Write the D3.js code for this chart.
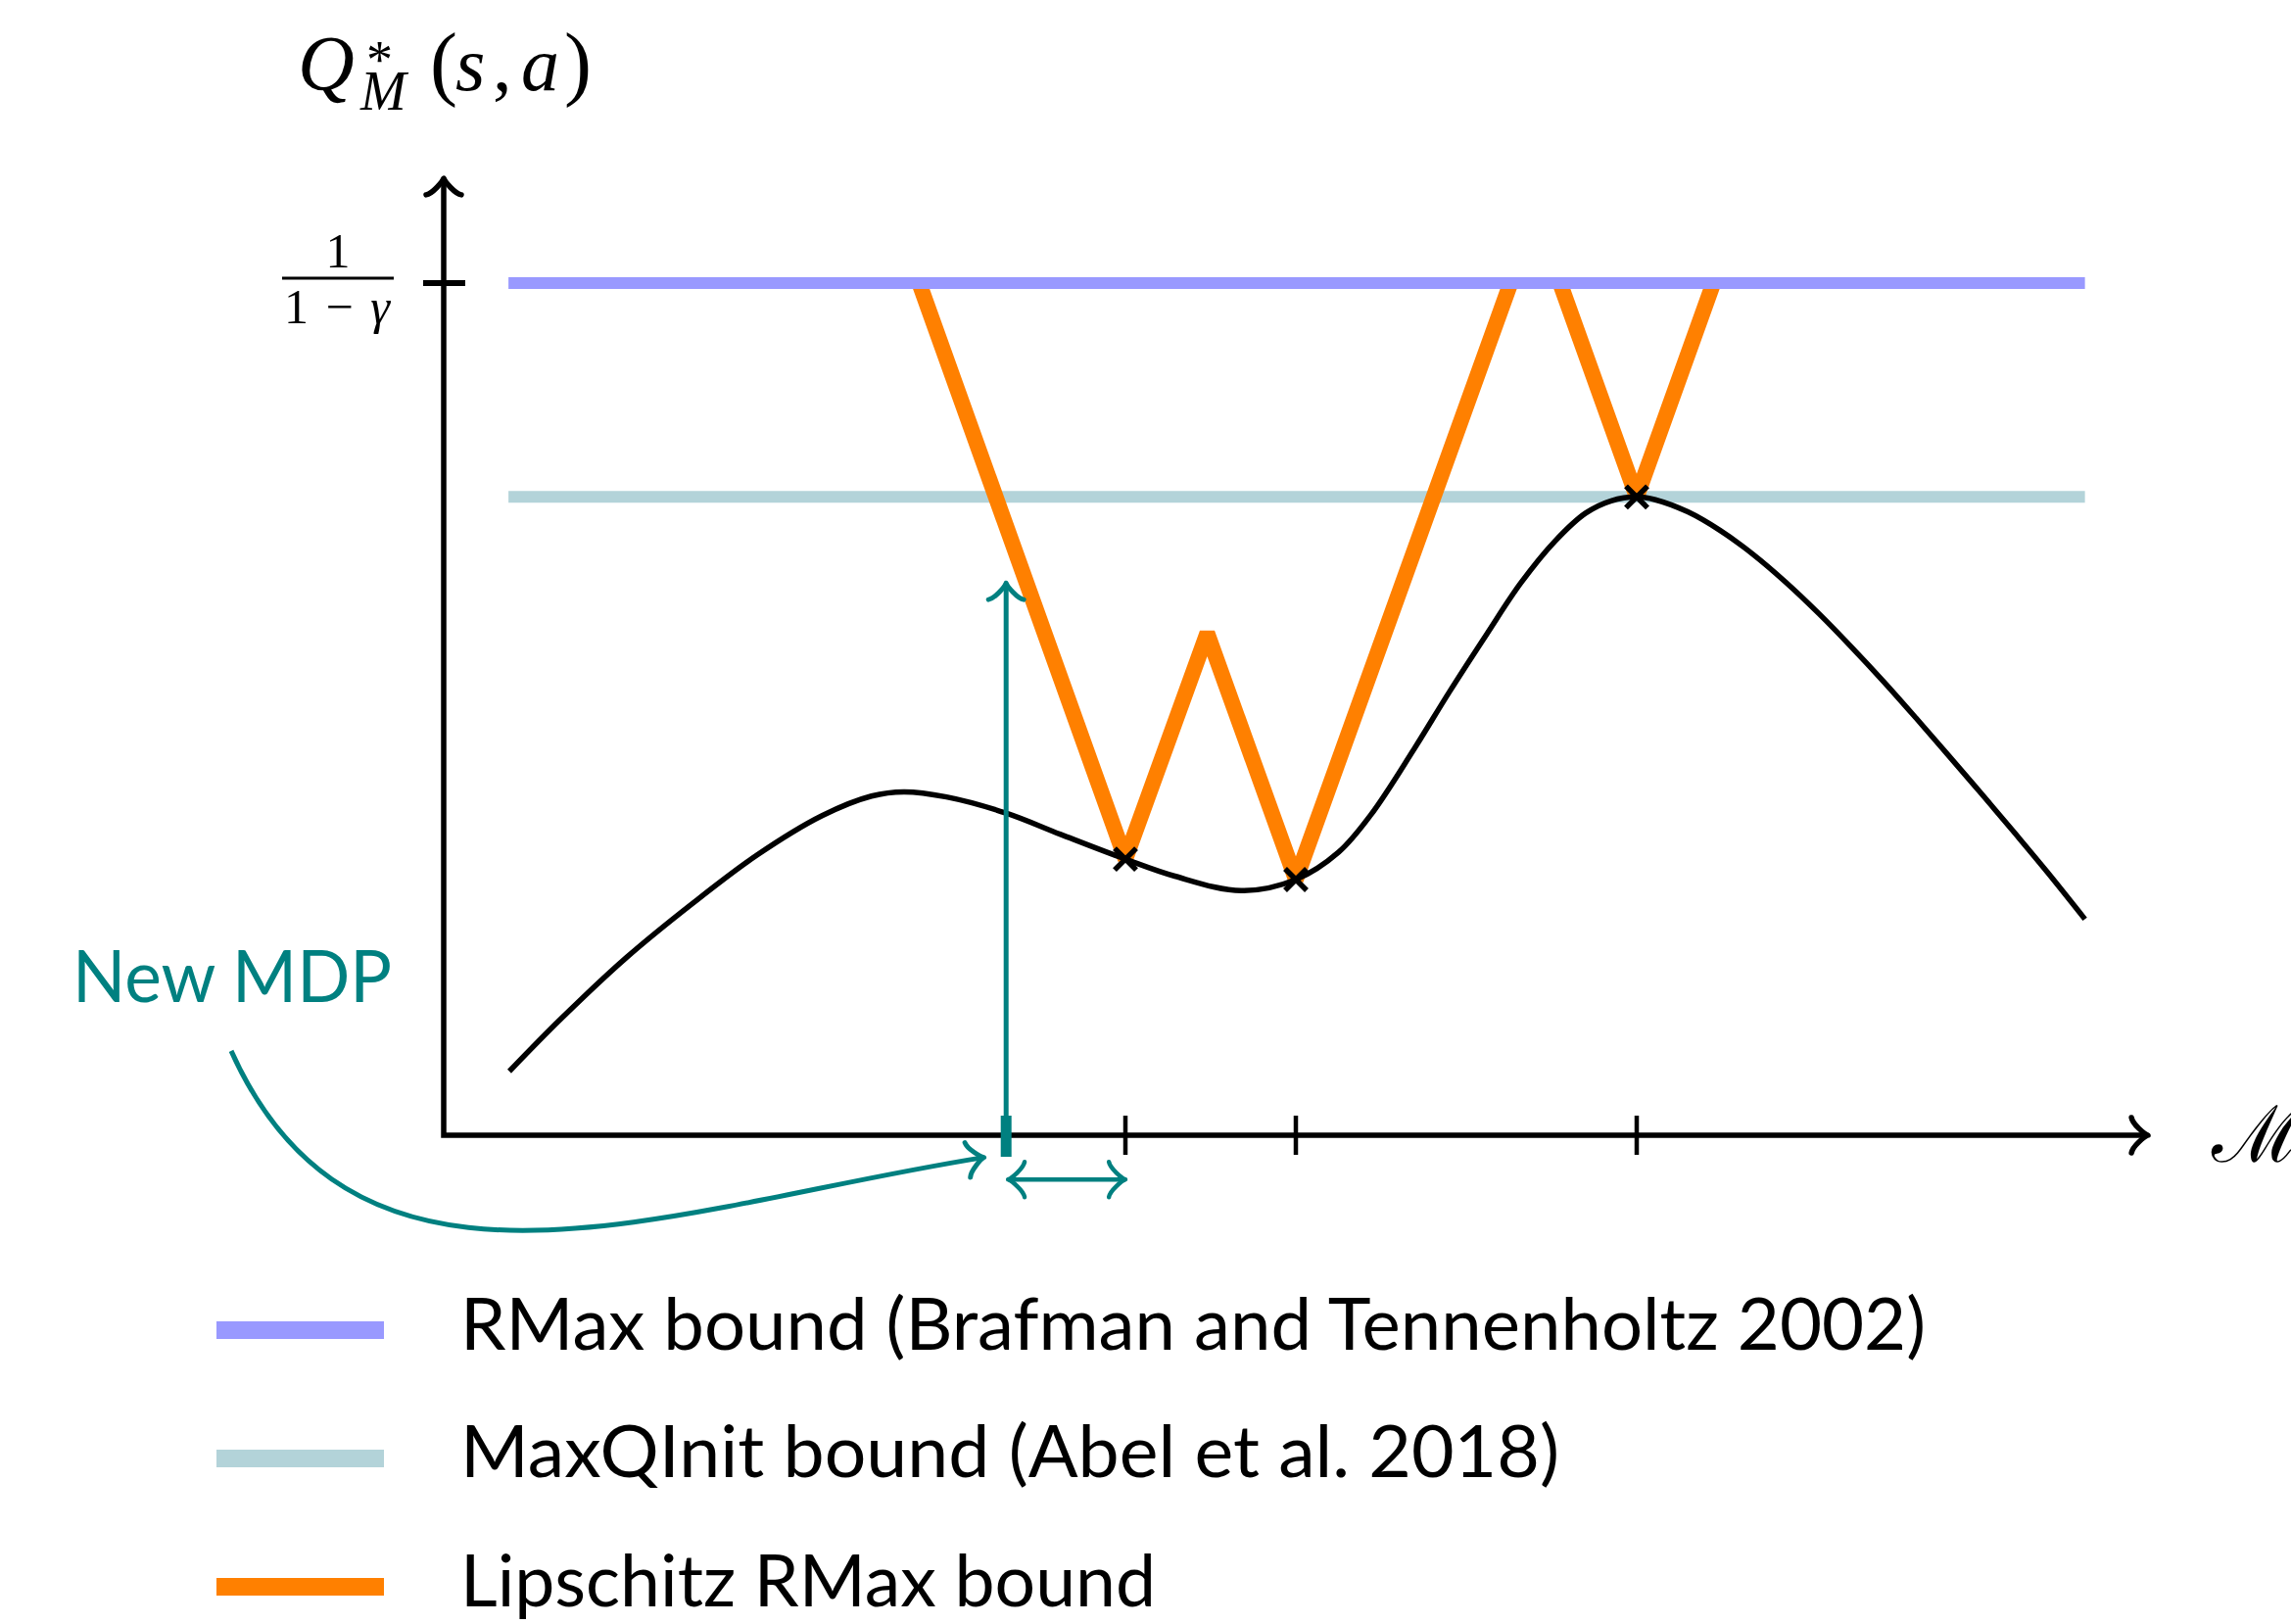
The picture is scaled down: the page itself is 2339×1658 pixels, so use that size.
<!DOCTYPE html>
<html><head><meta charset="utf-8">
<script src="https://cdn.jsdelivr.net/npm/d3@7"></script>
<style>html,body{margin:0;padding:0;background:#fff;} svg{display:block;}</style>
</head><body>
<svg id="chart" width="2339" height="1658"></svg>
<script>
// ---------- data ----------
// Q*_M(s,a) curve samples (x in MDP-space units 0..100, y in units of 1/(1-gamma))
const qCurveX = [3.85, 6.9, 10.75, 14.6, 18.4, 22.2, 25.1, 27.0, 29.5, 33.0, 36.2, 40.0, 42.9, 46.8, 50.0, 52.5, 54.4, 56.9, 59.0, 61.2, 63.2, 65.2, 67.0, 68.5, 70.0, 71.1, 73.0, 74.9, 76.8, 78.75, 80.7, 82.6, 84.5, 86.4, 88.3, 90.25, 92.2, 94.1, 96.3];
const qCurveY = [0.075, 0.137, 0.209, 0.272, 0.329, 0.375, 0.398, 0.403, 0.397, 0.378, 0.353, 0.324, 0.304, 0.287, 0.300, 0.332, 0.376, 0.452, 0.520, 0.588, 0.648, 0.697, 0.730, 0.7445, 0.749, 0.7457, 0.7315, 0.7096, 0.6821, 0.6489, 0.6119, 0.5729, 0.5321, 0.4893, 0.4456, 0.4002, 0.3542, 0.3086, 0.2536];
// known MDPs (crosses)
const knownX = [40, 50, 70];
const knownY = [0.324, 0.300, 0.749];
// bounds
const rmaxValue = 1.0;
const maxQInitValue = 0.749;
const boundStartX = 3.8;
const boundEndX = 96.3;
// Lipschitz RMax bound vertices
const lipschitzPartA = [[27.9, 1.0], [40, 0.324], [44.8, 0.589], [50, 0.300], [62.6, 1.0]];
const lipschitzPartB = [[65.5, 1.0], [70, 0.749], [74.5, 1.0]];
// axis ticks
const xTicks = [40, 50, 70];
const newMdpX = 33;
const newMdpArrowTopY = 0.648;
const distanceArrowY = -0.052;
const yAxisTop = 1.123;
// curved annotation arrow (bezier control points, data units)
const newMdpCurve = [[-12.47, 0.099], [-4.95, -0.236], [12.9, -0.086], [31.7, -0.026]];
// legend
const legendLabels = ["RMax bound (Brafman and Tennenholtz 2002)", "MaxQInit bound (Abel et al. 2018)", "Lipschitz RMax bound"];
const legendColors = ["#9999FF", "#B3D3D9", "#FF8000"];
const legendWidths = [1496, 1122, 710];

// ---------- drawing ----------
const TEAL = "#008080";
const svg = d3.select("#chart");
const x = d3.scaleLinear().domain([0, 100]).range([453, 2193]);
const y = d3.scaleLinear().domain([0, 1]).range([1159, 289]);

function head(sel, px, py, angleDeg, d, color, sw) {
  sel.append("path")
    .attr("d", `M${-3*d},${4*d} C${-2.75*d},${2.5*d} 0,${0.25*d} ${0.75*d},0 C0,${-0.25*d} ${-2.75*d},${-2.5*d} ${-3*d},${-4*d}`)
    .attr("transform", `translate(${px},${py}) rotate(${angleDeg}) translate(${-0.75*d},0)`)
    .attr("fill", "none").attr("stroke", color).attr("stroke-width", sw)
    .attr("stroke-linecap", "round").attr("stroke-linejoin", "round");
}

const line = d3.line().x(d => x(d[0])).y(d => y(d[1]));

// MaxQInit bound
svg.append("path").attr("d", line([[boundStartX, maxQInitValue], [boundEndX, maxQInitValue]]))
  .attr("stroke", legendColors[1]).attr("stroke-width", 12).attr("fill", "none");

// Lipschitz bound
[lipschitzPartA, lipschitzPartB].forEach(part => {
  svg.append("path").attr("d", line(part))
    .attr("stroke", legendColors[2]).attr("stroke-width", 16).attr("fill", "none")
    .attr("stroke-linejoin", "bevel");
});

// RMax bound
svg.append("path").attr("d", line([[boundStartX, rmaxValue], [boundEndX, rmaxValue]]))
  .attr("stroke", legendColors[0]).attr("stroke-width", 12).attr("fill", "none");

// Q curve
const qData = qCurveX.map((v, i) => [v, qCurveY[i]]);
const curveLine = d3.line().x(d => x(d[0])).y(d => y(d[1])).curve(d3.curveCatmullRom.alpha(0.5));
svg.append("path").attr("d", curveLine(qData))
  .attr("stroke", "#000").attr("stroke-width", 5.5).attr("fill", "none");

// crosses
knownX.forEach((kx, i) => {
  const cx = x(kx), cy = y(knownY[i]), s = 11;
  svg.append("path").attr("d", `M${cx-s},${cy-s}L${cx+s},${cy+s}M${cx-s},${cy+s}L${cx+s},${cy-s}`)
    .attr("stroke", "#000").attr("stroke-width", 5.5).attr("fill", "none");
});

// axes
const x0 = x(0), y0 = y(0);
svg.append("path").attr("d", `M${x0},${y(yAxisTop)}V${y0}H${x(100)}`)
  .attr("stroke", "#000").attr("stroke-width", 5.5).attr("fill", "none").attr("stroke-linejoin", "miter");
head(svg, x0, y(yAxisTop), -90, 4.5, "#000", 5.5);
head(svg, x(100), y0, 0, 4.5, "#000", 5.5);

// y tick at 1/(1-gamma)
svg.append("line").attr("x1", x0 - 21).attr("x2", x0 + 22).attr("y1", y(rmaxValue)).attr("y2", y(rmaxValue))
  .attr("stroke", "#000").attr("stroke-width", 6);

// x ticks
xTicks.forEach(t => {
  svg.append("line").attr("x1", x(t)).attr("x2", x(t)).attr("y1", y0 - 20).attr("y2", y0 + 20)
    .attr("stroke", "#000").attr("stroke-width", 4.5);
});

// New MDP tick and vertical arrow
svg.append("line").attr("x1", x(newMdpX)).attr("x2", x(newMdpX)).attr("y1", y0 - 20).attr("y2", y0 + 22)
  .attr("stroke", TEAL).attr("stroke-width", 11);
svg.append("line").attr("x1", x(newMdpX)).attr("x2", x(newMdpX)).attr("y1", y0).attr("y2", y(newMdpArrowTopY))
  .attr("stroke", TEAL).attr("stroke-width", 5);
head(svg, x(newMdpX), y(newMdpArrowTopY), -90, 4.5, TEAL, 5);

// distance double arrow
const dY = y(distanceArrowY);
svg.append("line").attr("x1", x(newMdpX) + 2).attr("x2", x(xTicks[0])).attr("y1", dY).attr("y2", dY)
  .attr("stroke", TEAL).attr("stroke-width", 4.5);
head(svg, x(newMdpX) + 2, dY, 180, 4.5, TEAL, 4.5);
head(svg, x(xTicks[0]), dY, 0, 4.5, TEAL, 4.5);

// curved arrow from "New MDP"
const cp = newMdpCurve.map(p => [x(p[0]), y(p[1])]);
const cpath = d3.path();
cpath.moveTo(cp[0][0], cp[0][1]);
cpath.bezierCurveTo(cp[1][0], cp[1][1], cp[2][0], cp[2][1], cp[3][0], cp[3][1]);
svg.append("path").attr("d", cpath.toString()).attr("stroke", TEAL).attr("stroke-width", 5).attr("fill", "none");
const ang = Math.atan2(cp[3][1] - cp[2][1], cp[3][0] - cp[2][0]) * 180 / Math.PI;
head(svg, cp[3][0], cp[3][1], ang, 4.5, TEAL, 5);

// New MDP label
svg.append("text").attr("x", 74).attr("y", 1023).text("New MDP")
  .attr("font-family", "Lato").attr("font-size", 74).attr("fill", TEAL)
  .attr("textLength", 326).attr("lengthAdjust", "spacingAndGlyphs");

// y label Q*_M(s,a) as one text element
const serif = "Liberation Serif";
const ql = svg.append("text").attr("font-family", serif).attr("fill", "#000");
ql.append("tspan").attr("x", 304).attr("y", 92).attr("font-style", "italic").attr("font-size", 80).text("Q");
ql.append("tspan").attr("x", 374).attr("y", 79).attr("font-size", 54).text("*");
ql.append("tspan").attr("x", 368).attr("y", 112).attr("font-style", "italic").attr("font-size", 56).text("M");
ql.append("tspan").attr("x", 439).attr("y", 92).attr("font-size", 84).text("(");
ql.append("tspan").attr("x", 465).attr("y", 92).attr("font-style", "italic").attr("font-size", 78).text("s");
ql.append("tspan").attr("x", 503).attr("y", 92).attr("font-size", 78).text(",");
ql.append("tspan").attr("x", 532).attr("y", 92).attr("font-style", "italic").attr("font-size", 78).text("a");
ql.append("tspan").attr("x", 576).attr("y", 92).attr("font-size", 84).text(")");

// 1/(1-gamma) label
const fracY = y(rmaxValue) - 5;
svg.append("line").attr("x1", 288).attr("x2", 402).attr("y1", fracY).attr("y2", fracY)
  .attr("stroke", "#000").attr("stroke-width", 3);
svg.append("text").attr("x", 345).attr("y", fracY - 11).attr("text-anchor", "middle").text("1")
  .attr("font-family", serif).attr("font-size", 50);
const den = svg.append("text").attr("x", 290).attr("y", fracY + 46)
  .attr("font-family", serif).attr("font-size", 50)
  .attr("textLength", 108).attr("lengthAdjust", "spacing");
den.append("tspan").text("1\u2212");
den.append("tspan").attr("font-style", "italic").text("\u03B3");

// x label
svg.append("text").attr("x", 2258).attr("y", 1186).text("\u2133")
  .attr("font-family", "DejaVu Serif").attr("font-size", 80);

// legend
const legendY = [1358, 1489, 1620];
const textY = [1378, 1508, 1640];
legendLabels.forEach((lab, i) => {
  svg.append("line").attr("x1", 221).attr("x2", 392).attr("y1", legendY[i]).attr("y2", legendY[i])
    .attr("stroke", legendColors[i]).attr("stroke-width", 18);
  svg.append("text").attr("x", 470).attr("y", textY[i]).text(lab)
    .attr("font-family", "Lato").attr("font-size", 74).attr("fill", "#000")
    .attr("textLength", legendWidths[i]).attr("lengthAdjust", "spacingAndGlyphs");
});
</script>
</body></html>
